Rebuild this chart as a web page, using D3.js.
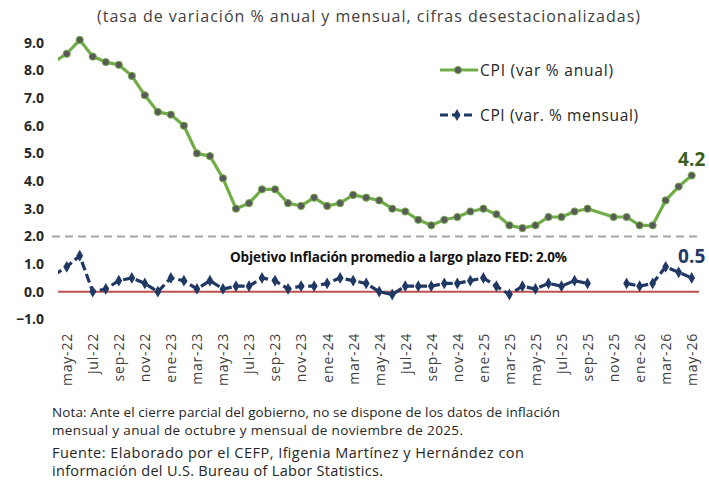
<!DOCTYPE html>
<html><head><meta charset="utf-8">
<script src="https://cdn.jsdelivr.net/npm/d3@7"></script>
<style>
html,body{margin:0;padding:0;background:#fff;}
svg{display:block;font-family:"Open Sans","Lato",sans-serif;}
</style></head>
<body>
<script>
// ---- data ----
const months = ["abr-22","may-22","jun-22","jul-22","ago-22","sep-22","oct-22","nov-22","dic-22",
"ene-23","feb-23","mar-23","abr-23","may-23","jun-23","jul-23","ago-23","sep-23","oct-23","nov-23","dic-23",
"ene-24","feb-24","mar-24","abr-24","may-24","jun-24","jul-24","ago-24","sep-24","oct-24","nov-24","dic-24",
"ene-25","feb-25","mar-25","abr-25","may-25","jun-25","jul-25","ago-25","sep-25","oct-25","nov-25","dic-25",
"ene-26","feb-26","mar-26","abr-26","may-26"];
const cpiAnual = [8.3,8.6,9.1,8.5,8.3,8.2,7.8,7.1,6.5,
6.4,6.0,5.0,4.9,4.1,3.0,3.2,3.7,3.7,3.2,3.1,3.4,
3.1,3.2,3.5,3.4,3.3,3.0,2.9,2.6,2.4,2.6,2.7,2.9,
3.0,2.8,2.4,2.3,2.4,2.7,2.7,2.9,3.0,null,2.7,2.7,
2.4,2.4,3.3,3.8,4.2];
const cpiMensual = [0.6,0.9,1.3,0.0,0.1,0.4,0.5,0.3,0.0,
0.5,0.4,0.1,0.4,0.1,0.2,0.2,0.5,0.4,0.1,0.2,0.2,
0.3,0.5,0.4,0.3,0.0,-0.1,0.2,0.2,0.2,0.3,0.3,0.4,
0.5,0.2,-0.1,0.2,0.1,0.3,0.2,0.4,0.3,null,null,0.3,
0.2,0.3,0.9,0.7,0.5];
const yTicks = [9,8,7,6,5,4,3,2,1,0,-1];
const xTickLabels = ["may-22","jul-22","sep-22","nov-22","ene-23","mar-23","may-23","jul-23","sep-23","nov-23",
"ene-24","mar-24","may-24","jul-24","sep-24","nov-24","ene-25","mar-25","may-25","jul-25","sep-25","nov-25",
"ene-26","mar-26","may-26"];
const fedTarget = 2.0;
const title = "(tasa de variación % anual y mensual, cifras desestacionalizadas)";
const legendLabels = ["CPI (var % anual)","CPI (var. % mensual)"];
const targetLabel = "Objetivo Inflación promedio a largo plazo FED: 2.0%";
const notes = ["Nota: Ante el cierre parcial del gobierno, no se dispone de los datos de inflación",
"mensual y anual de octubre y mensual de noviembre de 2025.",
"Fuente: Elaborado por el CEFP, Ifigenia Martínez y Hernández con",
"información del U.S. Bureau of Labor Statistics."];

// ---- layout ----
const W = 709, H = 481;
const green = "#70ad47", navy = "#1f3864";
const svg = d3.select("body").append("svg").attr("width", W).attr("height", H);

const x = d3.scaleLinear().domain([0, months.length - 1]).range([53.7, 691.7]);
const y = d3.scaleLinear().domain([-1, 9]).range([319.4, 42.7]);
const plotLeft = 58, plotRight = 699;

svg.append("defs").append("clipPath").attr("id","clip")
  .append("rect").attr("x", plotLeft).attr("y", 0).attr("width", W - plotLeft).attr("height", H);

function fit(sel, len) { return sel.attr("textLength", len).attr("lengthAdjust", "spacing"); }

// title
fit(svg.append("text").attr("x", 97).attr("y", 22)
  .attr("font-size", 16).attr("fill", "#404040").text(title), 543);

// y axis labels
const yAxis = d3.axisLeft(y).tickValues(yTicks).tickFormat(d3.format(".1f")).tickSize(0).tickPadding(0);
const gy = svg.append("g").attr("transform", "translate(44,0)").call(yAxis);
gy.select(".domain").remove();
gy.selectAll("text").attr("font-size", 14).attr("font-weight", "bold").attr("fill", "#262626")
  .attr("font-family", "'Open Sans',sans-serif");

// x axis labels
const xAxis = d3.axisBottom(x).tickValues(xTickLabels.map(l => months.indexOf(l)))
  .tickFormat(i => months[i]).tickSize(0).tickPadding(0);
const gx = svg.append("g").attr("transform", "translate(0,333)").call(xAxis);
gx.select(".domain").remove();
gx.selectAll("text").attr("font-size", 14).attr("fill", "#404040")
  .attr("font-family", "'Open Sans',sans-serif").attr("letter-spacing", 0.8)
  .attr("text-anchor", "end").attr("dy", "0.35em")
  .attr("transform", "rotate(-90)").attr("x", 0).attr("y", 0);

// zero line
svg.append("line").attr("x1", plotLeft).attr("x2", plotRight).attr("y1", y(0)).attr("y2", y(0))
  .attr("stroke", "#c0504d").attr("stroke-width", 2);

// FED target dashed line
svg.append("line").attr("x1", 52).attr("x2", 700).attr("y1", y(fedTarget)).attr("y2", y(fedTarget))
  .attr("stroke", "#a6a6a6").attr("stroke-width", 2).attr("stroke-dasharray", "8,5");

const plot = svg.append("g").attr("clip-path", "url(#clip)");

// annual line (connects over missing month)
const annualPts = cpiAnual.map((v, i) => ({i, v})).filter(d => d.v !== null);
plot.append("path").datum(annualPts)
  .attr("d", d3.line().x(d => x(d.i)).y(d => y(d.v)))
  .attr("fill", "none").attr("stroke", green).attr("stroke-width", 3.2).attr("stroke-linejoin", "round");
plot.selectAll("circle.a").data(annualPts.filter(d => d.i > 0)).join("circle")
  .attr("cx", d => x(d.i)).attr("cy", d => y(d.v)).attr("r", 3.6)
  .attr("fill", "#595959").attr("stroke", green).attr("stroke-width", 1);

// monthly line (gap for missing months)
const monthlyPts = cpiMensual.map((v, i) => ({i, v}));
plot.append("path").datum(monthlyPts)
  .attr("d", d3.line().defined(d => d.v !== null).x(d => x(d.i)).y(d => y(d.v)))
  .attr("fill", "none").attr("stroke", navy).attr("stroke-width", 3.2)
  .attr("stroke-dasharray", "9,4");
const diamond = d3.symbol().type(d3.symbolDiamond).size(40);
plot.selectAll("path.m").data(monthlyPts.filter(d => d.v !== null && d.i > 0)).join("path")
  .attr("class", "m").attr("d", diamond)
  .attr("transform", d => `translate(${x(d.i)},${y(d.v)})`).attr("fill", navy);

// end labels
const last = months.length - 1;
svg.append("text").attr("x", x(last)).attr("y", 166).attr("text-anchor", "middle")
  .attr("font-size", 19).attr("font-weight", "bold").attr("fill", "#3b5e1f")
  .text(cpiAnual[last].toFixed(1));
svg.append("text").attr("x", x(last)).attr("y", 263).attr("text-anchor", "middle")
  .attr("font-size", 19).attr("font-weight", "bold").attr("fill", navy)
  .text(cpiMensual[last].toFixed(1));

// target label
fit(svg.append("text").attr("x", 230).attr("y", 262).attr("font-size", 13.5).attr("font-weight", "bold")
  .attr("fill", "#111").text(targetLabel), 337);

// legend
const lg = svg.append("g");
lg.append("line").attr("x1", 440).attr("x2", 478).attr("y1", 70).attr("y2", 70)
  .attr("stroke", green).attr("stroke-width", 3.2);
lg.append("circle").attr("cx", 458).attr("cy", 70).attr("r", 3.6)
  .attr("fill", "#595959").attr("stroke", green);
fit(lg.append("text").attr("x", 480).attr("y", 75.5).attr("font-size", 15.5).attr("fill", "#262626").text(legendLabels[0]), 133);
lg.append("line").attr("x1", 440).attr("x2", 474).attr("y1", 115).attr("y2", 115)
  .attr("stroke", navy).attr("stroke-width", 3.2).attr("stroke-dasharray", "8,4");
lg.append("path").attr("d", diamond).attr("transform", "translate(457,115)").attr("fill", navy);
fit(lg.append("text").attr("x", 480).attr("y", 120.5).attr("font-size", 15.5).attr("fill", "#262626").text(legendLabels[1]), 158);

// notes
const ny = [417, 435, 458, 476];
const nlen = [508, 411, 472, 331];
notes.forEach((t, k) => {
  fit(svg.append("text").attr("x", 52).attr("y", ny[k]).attr("font-size", k < 2 ? 13.5 : 14.5)
    .attr("fill", "#262626").text(t), nlen[k]);
});
</script>
</body></html>
